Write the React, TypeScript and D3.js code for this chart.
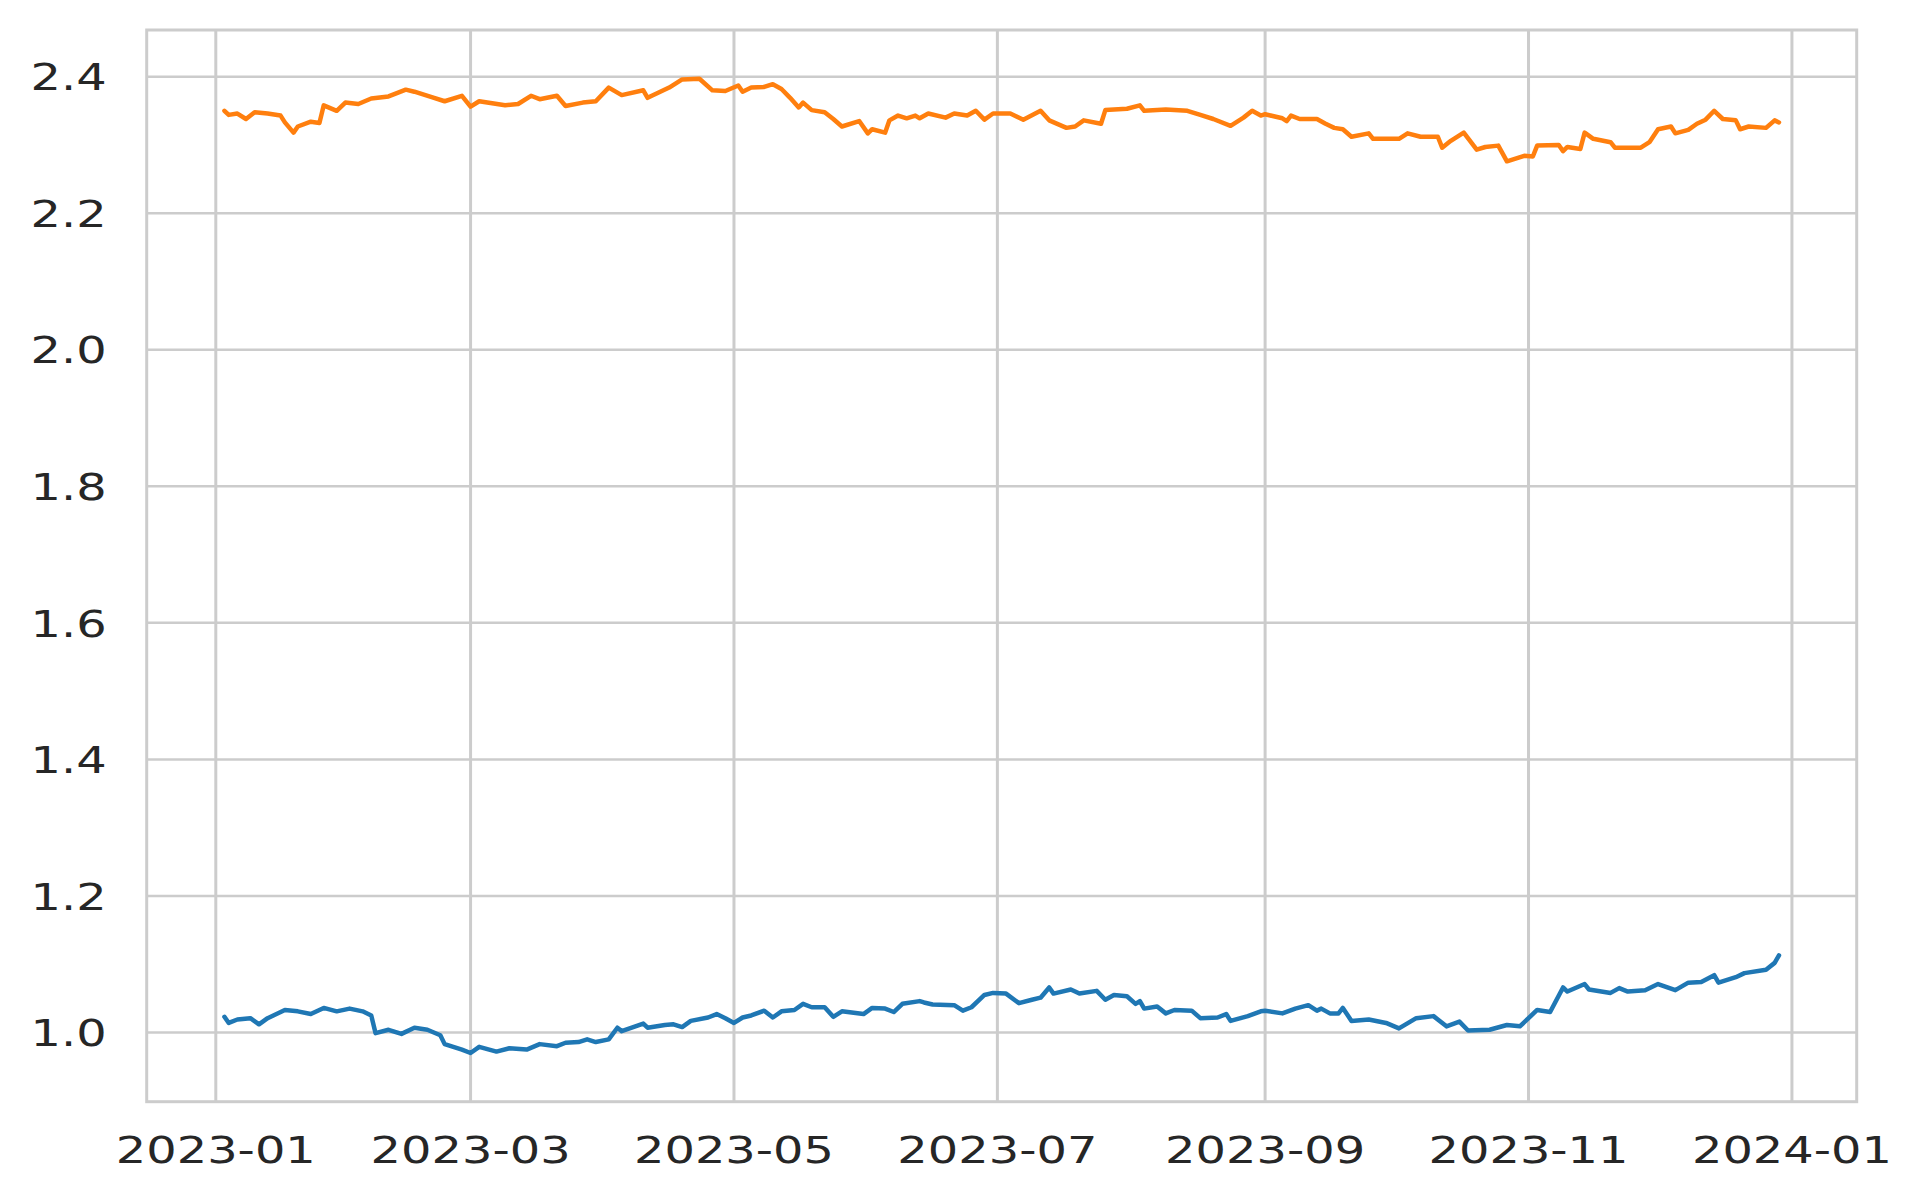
import React, { useEffect, useRef } from 'react';
import * as d3 from 'd3';

// series (two daily-ish ratio series over 2023)
const orangeDates = [
    '2023-01-03', '2023-01-04', '2023-01-06', '2023-01-08', '2023-01-10', '2023-01-13', '2023-01-16', '2023-01-17',
    '2023-01-19', '2023-01-20', '2023-01-23', '2023-01-25', '2023-01-26', '2023-01-29', '2023-01-31', '2023-02-03',
    '2023-02-06', '2023-02-10', '2023-02-14', '2023-02-16', '2023-02-20', '2023-02-23', '2023-02-27', '2023-03-01',
    '2023-03-03', '2023-03-09', '2023-03-12', '2023-03-15', '2023-03-17', '2023-03-21', '2023-03-23', '2023-03-27',
    '2023-03-30', '2023-04-02', '2023-04-05', '2023-04-10', '2023-04-11', '2023-04-16', '2023-04-19', '2023-04-23',
    '2023-04-26', '2023-04-29', '2023-05-02', '2023-05-03', '2023-05-05', '2023-05-08', '2023-05-10', '2023-05-12',
    '2023-05-14', '2023-05-16', '2023-05-17', '2023-05-19', '2023-05-22', '2023-05-24', '2023-05-26', '2023-05-30',
    '2023-06-01', '2023-06-02', '2023-06-05', '2023-06-06', '2023-06-08', '2023-06-10', '2023-06-12', '2023-06-13',
    '2023-06-15', '2023-06-19', '2023-06-21', '2023-06-24', '2023-06-26', '2023-06-28', '2023-06-30', '2023-07-04',
    '2023-07-07', '2023-07-11', '2023-07-13', '2023-07-17', '2023-07-19', '2023-07-21', '2023-07-25', '2023-07-26',
    '2023-07-31', '2023-08-03', '2023-08-04', '2023-08-09', '2023-08-14', '2023-08-17', '2023-08-20', '2023-08-24',
    '2023-08-27', '2023-08-29', '2023-08-31', '2023-09-01', '2023-09-05', '2023-09-06', '2023-09-07', '2023-09-09',
    '2023-09-13', '2023-09-15', '2023-09-17', '2023-09-19', '2023-09-21', '2023-09-25', '2023-09-26', '2023-10-02',
    '2023-10-04', '2023-10-07', '2023-10-11', '2023-10-12', '2023-10-14', '2023-10-17', '2023-10-20', '2023-10-22',
    '2023-10-25', '2023-10-27', '2023-10-31', '2023-11-02', '2023-11-03', '2023-11-08', '2023-11-09', '2023-11-10',
    '2023-11-13', '2023-11-14', '2023-11-16', '2023-11-20', '2023-11-21', '2023-11-27', '2023-11-29', '2023-12-01',
    '2023-12-04', '2023-12-05', '2023-12-08', '2023-12-10', '2023-12-12', '2023-12-14', '2023-12-16', '2023-12-19',
    '2023-12-20', '2023-12-22', '2023-12-26', '2023-12-28', '2023-12-29',
];
const orangeValues = [
    2.350, 2.344, 2.346, 2.338, 2.348, 2.346, 2.343, 2.333,
    2.318, 2.327, 2.334, 2.332, 2.358, 2.350, 2.362, 2.360,
    2.368, 2.371, 2.381, 2.378, 2.370, 2.364, 2.372, 2.356,
    2.364, 2.358, 2.360, 2.372, 2.367, 2.372, 2.357, 2.362,
    2.364, 2.384, 2.373, 2.380, 2.369, 2.384, 2.396, 2.397,
    2.380, 2.379, 2.387, 2.378, 2.384, 2.385, 2.389, 2.382,
    2.369, 2.355, 2.362, 2.351, 2.348, 2.338, 2.327, 2.335,
    2.317, 2.323, 2.318, 2.336, 2.343, 2.339, 2.343, 2.339,
    2.346, 2.340, 2.346, 2.343, 2.350, 2.337, 2.346, 2.346,
    2.337, 2.350, 2.336, 2.325, 2.327, 2.336, 2.331, 2.351,
    2.353, 2.358, 2.350, 2.352, 2.350, 2.344, 2.338, 2.328,
    2.340, 2.350, 2.343, 2.345, 2.339, 2.335, 2.343, 2.338,
    2.338, 2.331, 2.325, 2.323, 2.312, 2.317, 2.309, 2.309,
    2.317, 2.312, 2.312, 2.296, 2.306, 2.318, 2.293, 2.297,
    2.299, 2.276, 2.284, 2.283, 2.299, 2.300, 2.291, 2.297,
    2.294, 2.318, 2.309, 2.304, 2.296, 2.296, 2.304, 2.323,
    2.327, 2.317, 2.322, 2.331, 2.337, 2.350, 2.338, 2.336,
    2.323, 2.327, 2.325, 2.336, 2.333,
];

const blueDates = [
    '2023-01-03', '2023-01-04', '2023-01-06', '2023-01-09', '2023-01-11', '2023-01-13', '2023-01-17', '2023-01-20',
    '2023-01-23', '2023-01-26', '2023-01-29', '2023-02-01', '2023-02-04', '2023-02-06', '2023-02-07', '2023-02-10',
    '2023-02-13', '2023-02-16', '2023-02-19', '2023-02-22', '2023-02-23', '2023-02-27', '2023-03-01', '2023-03-03',
    '2023-03-07', '2023-03-10', '2023-03-14', '2023-03-17', '2023-03-21', '2023-03-23', '2023-03-26', '2023-03-28',
    '2023-03-30', '2023-04-02', '2023-04-04', '2023-04-05', '2023-04-10', '2023-04-11', '2023-04-15', '2023-04-17',
    '2023-04-19', '2023-04-21', '2023-04-25', '2023-04-27', '2023-04-29', '2023-05-01', '2023-05-03', '2023-05-05',
    '2023-05-08', '2023-05-10', '2023-05-12', '2023-05-15', '2023-05-17', '2023-05-19', '2023-05-22', '2023-05-24',
    '2023-05-26', '2023-05-31', '2023-06-02', '2023-06-05', '2023-06-07', '2023-06-09', '2023-06-13', '2023-06-14',
    '2023-06-16', '2023-06-21', '2023-06-23', '2023-06-25', '2023-06-28', '2023-06-30', '2023-07-03', '2023-07-06',
    '2023-07-09', '2023-07-11', '2023-07-13', '2023-07-14', '2023-07-18', '2023-07-20', '2023-07-24', '2023-07-26',
    '2023-07-28', '2023-07-31', '2023-08-02', '2023-08-03', '2023-08-04', '2023-08-07', '2023-08-09', '2023-08-11',
    '2023-08-15', '2023-08-17', '2023-08-21', '2023-08-23', '2023-08-24', '2023-08-28', '2023-08-31', '2023-09-01',
    '2023-09-05', '2023-09-08', '2023-09-11', '2023-09-13', '2023-09-14', '2023-09-16', '2023-09-18', '2023-09-19',
    '2023-09-21', '2023-09-25', '2023-09-29', '2023-10-02', '2023-10-06', '2023-10-10', '2023-10-13', '2023-10-16',
    '2023-10-18', '2023-10-23', '2023-10-27', '2023-10-30', '2023-11-03', '2023-11-06', '2023-11-09', '2023-11-10',
    '2023-11-14', '2023-11-15', '2023-11-20', '2023-11-22', '2023-11-24', '2023-11-28', '2023-12-01', '2023-12-05',
    '2023-12-08', '2023-12-11', '2023-12-14', '2023-12-15', '2023-12-19', '2023-12-21', '2023-12-26', '2023-12-28',
    '2023-12-29',
];
const blueValues = [
    1.023, 1.014, 1.019, 1.021, 1.012, 1.021, 1.033, 1.031,
    1.027, 1.036, 1.031, 1.035, 1.031, 1.025, 0.999, 1.004,
    0.998, 1.007, 1.004, 0.996, 0.983, 0.975, 0.970, 0.979,
    0.972, 0.977, 0.975, 0.983, 0.980, 0.985, 0.986, 0.990,
    0.986, 0.990, 1.007, 1.002, 1.013, 1.007, 1.011, 1.012,
    1.008, 1.017, 1.022, 1.027, 1.021, 1.014, 1.022, 1.025,
    1.032, 1.022, 1.031, 1.033, 1.042, 1.037, 1.037, 1.023,
    1.031, 1.027, 1.036, 1.035, 1.030, 1.042, 1.046, 1.044,
    1.041, 1.040, 1.032, 1.037, 1.055, 1.058, 1.057, 1.043,
    1.048, 1.051, 1.066, 1.057, 1.063, 1.057, 1.061, 1.048,
    1.055, 1.053, 1.042, 1.046, 1.035, 1.038, 1.028, 1.033,
    1.032, 1.021, 1.022, 1.027, 1.017, 1.024, 1.031, 1.032,
    1.028, 1.035, 1.040, 1.032, 1.035, 1.028, 1.028, 1.036,
    1.017, 1.019, 1.014, 1.006, 1.021, 1.024, 1.009, 1.016,
    1.003, 1.004, 1.011, 1.009, 1.033, 1.030, 1.066, 1.060,
    1.071, 1.063, 1.058, 1.065, 1.060, 1.062, 1.071, 1.062,
    1.073, 1.074, 1.084, 1.073, 1.081, 1.087, 1.092, 1.102,
    1.113,
];

const yTicks = [1.0, 1.2, 1.4, 1.6, 1.8, 2.0, 2.2, 2.4];
const xTickLabels = ['2023-01', '2023-03', '2023-05', '2023-07', '2023-09', '2023-11', '2024-01'];

const BLUE = '#1f77b4';
const ORANGE = '#ff7f0e';
const GRID = '#cccccc';
const TEXT = '#262626';

const Chart: React.FC = () => {
    const svgRef = useRef<SVGSVGElement>(null);

    useEffect(() => {
        if (!svgRef.current) return;
        const svg = d3.select(svgRef.current);
        svg.selectAll('*').remove();

        const width = 1920;
        const height = 1200;
        const margin = { top: 30, right: 63.3, bottom: 98.3, left: 146.7 };
        // the source image was stretched sideways, so text gets widened too
        const stretch = 1.26;

        const parse = d3.timeParse('%Y-%m-%d');
        const blue = blueDates.map((d, i) => ({ date: parse(d)!, value: blueValues[i] }));
        const orange = orangeDates.map((d, i) => ({ date: parse(d)!, value: orangeValues[i] }));
        const all = blue.concat(orange);

        // matplotlib-style 5% margins around the data
        const [t0, t1] = d3.extent(all, d => +d.date) as [number, number];
        const tPad = (t1 - t0) * 0.05;
        const [v0, v1] = d3.extent(all, d => d.value) as [number, number];
        const vPad = (v1 - v0) * 0.05;

        const x = d3.scaleTime()
            .domain([new Date(t0 - tPad), new Date(t1 + tPad)])
            .range([margin.left, width - margin.right]);

        const y = d3.scaleLinear()
            .domain([v0 - vPad, v1 + vPad])
            .range([height - margin.bottom, margin.top]);

        const parseMonth = d3.timeParse('%Y-%m');
        const xTicks = xTickLabels.map(s => parseMonth(s)!);

        // Grid
        const grid = svg.append('g');
        grid.selectAll('line.h')
            .data(yTicks)
            .join('line')
            .attr('class', 'h')
            .attr('x1', margin.left)
            .attr('x2', width - margin.right)
            .attr('y1', d => y(d))
            .attr('y2', d => y(d))
            .attr('stroke', GRID)
            .attr('stroke-width', 2.5);

        grid.selectAll('line.v')
            .data(xTicks)
            .join('line')
            .attr('class', 'v')
            .attr('x1', d => x(d))
            .attr('x2', d => x(d))
            .attr('y1', margin.top)
            .attr('y2', height - margin.bottom)
            .attr('stroke', GRID)
            .attr('stroke-width', 3);

        // Lines
        const line = d3.line<{ date: Date; value: number }>()
            .x(d => x(d.date))
            .y(d => y(d.value));

        svg.append('path')
            .datum(blue)
            .attr('d', line)
            .attr('fill', 'none')
            .attr('stroke', BLUE)
            .attr('stroke-width', 4.5)
            .attr('stroke-linejoin', 'round')
            .attr('stroke-linecap', 'round');

        svg.append('path')
            .datum(orange)
            .attr('d', line)
            .attr('fill', 'none')
            .attr('stroke', ORANGE)
            .attr('stroke-width', 4.5)
            .attr('stroke-linejoin', 'round')
            .attr('stroke-linecap', 'round');

        // Frame
        svg.append('rect')
            .attr('x', margin.left)
            .attr('y', margin.top)
            .attr('width', width - margin.left - margin.right)
            .attr('height', height - margin.top - margin.bottom)
            .attr('fill', 'none')
            .attr('stroke', GRID)
            .attr('stroke-width', 3);

        // Tick labels
        svg.append('g')
            .selectAll('text')
            .data(yTicks)
            .join('text')
            .attr('transform', d => `translate(${margin.left - 40},${y(d)}) scale(${stretch},1)`)
            .attr('text-anchor', 'end')
            .attr('dy', '0.36em')
            .attr('fill', TEXT)
            .attr('font-family', 'DejaVu Sans')
            .attr('font-size', 38)
            .text(d => d.toFixed(1));

        svg.append('g')
            .selectAll('text')
            .data(xTicks)
            .join('text')
            .attr('transform', d => `translate(${x(d)},${height - margin.bottom + 61}) scale(${stretch},1)`)
            .attr('text-anchor', 'middle')
            .attr('fill', TEXT)
            .attr('font-family', 'DejaVu Sans')
            .attr('font-size', 38)
            .text((d, i) => xTickLabels[i]);
    }, []);

    return (
        <svg
            ref={svgRef}
            width={1920}
            height={1200}
            style={{ position: 'absolute', left: 0, top: 0, background: '#ffffff' }}
        />
    );
};

export default function App() {
    return <Chart />;
}
